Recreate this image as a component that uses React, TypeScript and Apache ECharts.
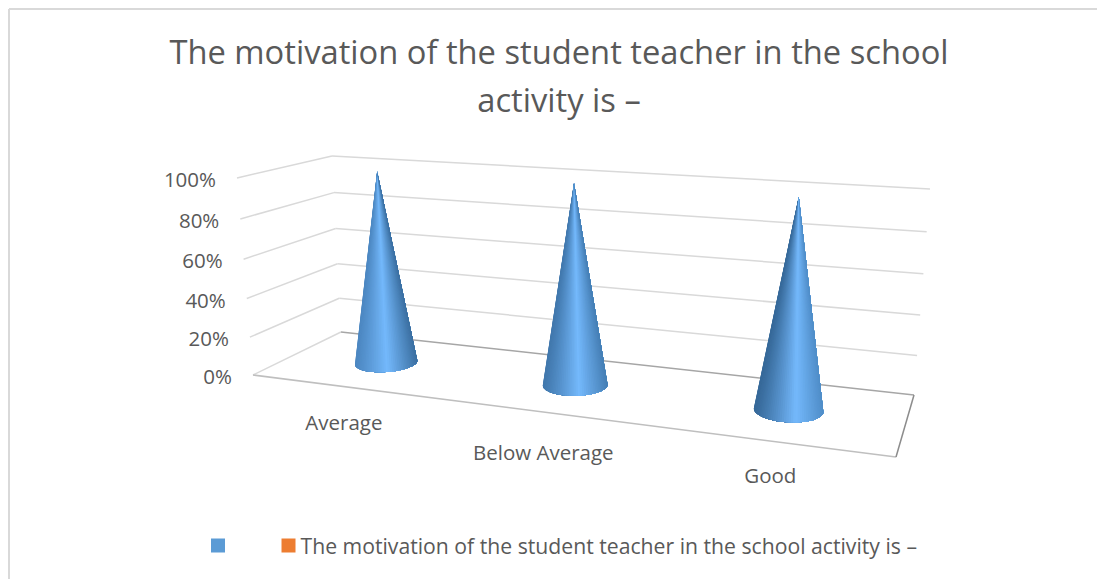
import React, { useEffect, useRef } from "react";
import * as echarts from "echarts";

const titleText = "The motivation of the student teacher in the school\nactivity is –";
const seriesName = "The motivation of the student teacher in the school activity is –";
const categories = ["Average", "Below Average", "Good"];
const blueValues = [100, 100, 100];
const orangeValues = [0, 0, 0];
const tickValues = [0, 20, 40, 60, 80, 100];
const tickLabels = ["0%", "20%", "40%", "60%", "80%", "100%"];

type Pt = [number, number];
// projected corners of the 3-D box: front-left, front-right, back-right, back-left
const FLOOR: Pt[] = [[253, 375], [896, 457], [914, 395], [341, 332]];
const CEIL: Pt[] = [[237, 178], [916, 222], [930, 189], [332, 156]];
const CATEGORY_LABEL_DY = [35, 40, 34];

function quadMap(q: Pt[]) {
  const [[x0, y0], [x1, y1], [x2, y2], [x3, y3]] = q;
  const dx1 = x1 - x2, dx2 = x3 - x2, sx = x0 - x1 + x2 - x3;
  const dy1 = y1 - y2, dy2 = y3 - y2, sy = y0 - y1 + y2 - y3;
  const den = dx1 * dy2 - dx2 * dy1;
  const g = (sx * dy2 - dx2 * sy) / den;
  const h = (dx1 * sy - sx * dy1) / den;
  const a = x1 - x0 + g * x1, b = x3 - x0 + h * x3, c = x0;
  const d = y1 - y0 + g * y1, e = y3 - y0 + h * y3, f = y0;
  return (u: number, w: number): Pt => {
    const k = g * u + h * w + 1;
    return [(a * u + b * w + c) / k, (d * u + e * w + f) / k];
  };
}
const floorMap = quadMap(FLOOR);
const ceilMap = quadMap(CEIL);
function project(u: number, depth: number, v: number): Pt {
  const p = floorMap(u, depth), q = ceilMap(u, depth);
  const t = v - 0.05 * v * (1 - v); // slight vertical foreshortening
  return [p[0] + (q[0] - p[0]) * t, p[1] + (q[1] - p[1]) * t];
}
function norm(params: any, pt: number[]) {
  const cs = params.coordSys;
  return { u: (pt[0] - cs.x) / cs.width, v: (cs.y + cs.height - pt[1]) / cs.height };
}
function rgb(c: string) {
  return [1, 3, 5].map((i) => parseInt(c.slice(i, i + 2), 16));
}
function mix(a: number[], b: number[], t: number) {
  return a.map((x, i) => x + (b[i] - x) * t);
}
function css(c: number[]) {
  return "rgb(" + c.map(Math.round).join(",") + ")";
}
function line(a: Pt, b: Pt, stroke: string, lineWidth = 1.5) {
  return { type: "line", shape: { x1: a[0], y1: a[1], x2: b[0], y2: b[1] }, style: { stroke, lineWidth }, silent: true };
}
const textColor = "#595959";
const FONT = "'Open Sans', 'Noto Sans', sans-serif";

function renderGrid(params: any, api: any) {
  const i = api.value(0);
  const { v } = norm(params, api.coord([0, tickValues[i]]));
  const fl = project(0, 0, v), bl = project(0, 1, v), br = project(1, 1, v);
  const zero = tickValues[i] === 0;
  const children: any[] = [
    line(fl, bl, "#d9d9d9"),
    line(bl, br, zero ? "#a6a6a6" : "#d9d9d9"),
    {
      type: "text",
      style: { text: tickLabels[i], x: fl[0] - 21, y: fl[1] + 1, fill: textColor, fontSize: 20.5, fontFamily: FONT, align: "right", verticalAlign: "middle" },
      silent: true,
    },
  ];
  if (zero) {
    const fr = project(1, 0, 0);
    children.push(line(fl, fr, "#bfbfbf"), line(fr, br, "#8c8c8c"));
  }
  return { type: "group", children };
}

function renderCategory(params: any, api: any) {
  const i = api.value(0);
  const { u } = norm(params, api.coord([i, 0]));
  const p = project(u, 0, 0);
  return {
    type: "text",
    style: { text: categories[i], x: p[0], y: p[1] + CATEGORY_LABEL_DY[i], fill: textColor, fontSize: 20.5, fontFamily: FONT, align: "center", verticalAlign: "middle" },
    silent: true,
  };
}

function renderCone(params: any, api: any) {
  const val = api.value(1);
  if (!val) return null;
  const { u, v } = norm(params, api.coord([api.value(0), val]));
  const D = 0.5, RU = 0.05, RD = 0.2, N = 96;
  const apex = project(u, D, v);
  const pts: Pt[] = [];
  for (let k = 0; k <= N; k++) {
    const t = (k / N) * Math.PI * 2;
    pts.push(project(u + RU * Math.cos(t), D + RD * Math.sin(t), 0));
  }
  const cross = (k: number) =>
    (pts[k][0] - apex[0]) * (pts[k + 1][1] - apex[1]) - (pts[k][1] - apex[1]) * (pts[k + 1][0] - apex[0]);
  let low = 0;
  for (let k = 0; k < N; k++) if (pts[k][1] > pts[low][1]) low = k;
  const sign = Math.sign(cross(low));
  // visible arc, ordered from one tangent point to the other
  let start = low;
  while (Math.sign(cross((start - 1 + N) % N)) === sign) start = (start - 1 + N) % N;
  const arc: Pt[] = [pts[start]];
  for (let k = start; Math.sign(cross(k % N)) === sign && arc.length <= N; k++) arc.push(pts[(k + 1) % N]);
  if (arc[0][0] > arc[arc.length - 1][0]) arc.reverse();
  const minX = arc[0][0], maxX = arc[arc.length - 1][0];
  const h = 0.5 + 0.12 * u;
  const leftCol = mix(rgb("#528fcb"), rgb("#31618f"), u);
  const rightCol = mix(rgb("#386a9a"), rgb("#5595d2"), u);
  const hiCol = rgb("#74b9fc");
  const children: any[] = [];
  for (let k = 0; k < arc.length - 1; k++) {
    const s = Math.min(1, Math.max(0, ((arc[k][0] + arc[k + 1][0]) / 2 - minX) / (maxX - minX)));
    const col = s < h ? mix(leftCol, hiCol, Math.pow(s / h, 1.2)) : mix(hiCol, rightCol, Math.pow((s - h) / (1 - h), 1.0));
    children.push({
      type: "polygon",
      shape: { points: [apex, ...arc.slice(k)] },
      style: { fill: css(col) },
      silent: true,
    });
  }
  return { type: "group", children };
}

export default function App() {
  const ref = useRef<HTMLDivElement>(null);
  useEffect(() => {
    document.body.style.margin = "0";
    const chart = echarts.init(ref.current!, undefined, { renderer: "svg" });
    chart.setOption({
      animation: false,
      backgroundColor: "#ffffff",
      title: {
        text: titleText,
        left: 554,
        top: 22,
        textAlign: "center",
        textStyle: { color: textColor, fontSize: 32.7, fontWeight: "normal", fontFamily: FONT, lineHeight: 48 },
      },
      grid: { left: 100, right: 100, top: 100, bottom: 100 },
      xAxis: { type: "category", data: categories, show: false },
      yAxis: { type: "value", min: 0, max: 100, interval: 20, show: false },
      legend: {
        left: 206,
        top: 530,
        icon: "rect",
        itemWidth: 14,
        itemHeight: 14,
        itemGap: 46,
        selectedMode: false,
        data: [" ", seriesName],
        textStyle: { color: textColor, fontSize: 21.2, fontFamily: FONT, padding: [0, 0, 0, 0] },
      },
      graphic: [
        { type: "line", shape: { x1: 9, y1: 9, x2: 1097, y2: 9 }, style: { stroke: "#d9d9d9", lineWidth: 2 } },
        { type: "line", shape: { x1: 9, y1: 9, x2: 9, y2: 579 }, style: { stroke: "#d9d9d9", lineWidth: 2 } },
      ],
      series: [
        { type: "custom", name: "grid", silent: true, clip: false, z: 1, renderItem: renderGrid, data: tickValues.map((_, i) => [i]) },
        { type: "custom", name: "labels", silent: true, clip: false, z: 1, renderItem: renderCategory, data: categories.map((_, i) => [i]) },
        { type: "custom", name: " ", silent: true, clip: false, z: 3, itemStyle: { color: "#5b9bd5" }, renderItem: renderCone, encode: { x: 0, y: 1 }, data: blueValues.map((y, i) => [i, y]) },
        { type: "custom", name: seriesName, silent: true, clip: false, z: 3, itemStyle: { color: "#ed7d31" }, renderItem: renderCone, encode: { x: 0, y: 1 }, data: orangeValues.map((y, i) => [i, y]) },
      ],
    });
    return () => chart.dispose();
  }, []);
  return <div ref={ref} style={{ position: "absolute", left: 0, top: 0, width: 1097, height: 579 }} />;
}
